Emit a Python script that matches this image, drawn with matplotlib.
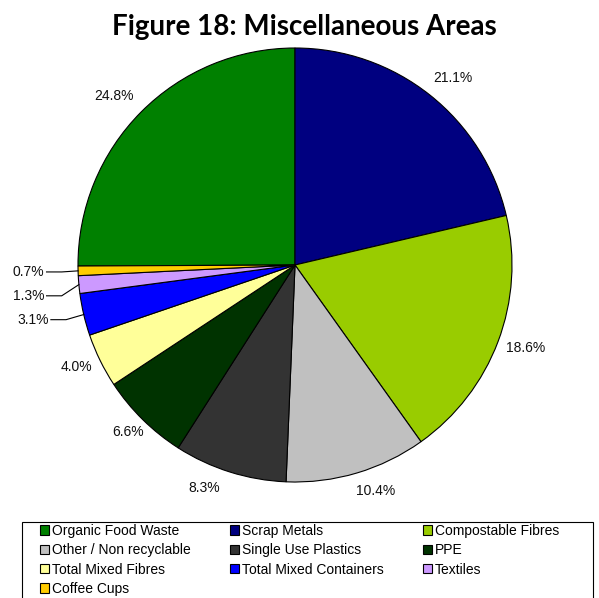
import numpy as np
import matplotlib
matplotlib.use("Agg")
import matplotlib.pyplot as plt
from matplotlib.patches import Patch, Rectangle

plt.rcParams['font.family'] = ['Liberation Sans', 'DejaVu Sans']

# data (order as in the legend)
categories = ['Organic Food Waste', 'Scrap Metals', 'Compostable Fibres',
              'Other / Non recyclable', 'Single Use Plastics', 'PPE',
              'Total Mixed Fibres', 'Total Mixed Containers', 'Textiles',
              'Coffee Cups']
values = [24.8, 21.1, 18.6, 10.4, 8.3, 6.6, 4.0, 3.1, 1.3, 0.7]
colors = ['#008000', '#000080', '#99CC00', '#C0C0C0', '#333333', '#003300',
          '#FFFF99', '#0000FF', '#CC99FF', '#FFCC00']

# label positions (axes data units, pie radius = 1); None -> leader line label
label_pos = [(-0.835, 0.78), (0.729, 0.862), (1.064, -0.381), (0.372, -1.041),
             (-0.417, -1.028), (-0.771, -0.771), (-1.009, -0.472),
             None, None, None]
leader_y = {7: -0.252, 8: -0.142, 9: -0.032}

W, H = 599, 598
fig = plt.figure(figsize=(W / 100, H / 100), dpi=100)
fig.text(304 / W, 1 - 35 / H, 'Figure 18: Miscellaneous Areas',
         ha='center', va='baseline', fontsize=20, fontweight='bold',
         family=['Lato', 'DejaVu Sans'])

cx, cy, r = 295, 265, 217
ax = fig.add_axes([(cx - r) / W, 1 - (cy + r) / H, 2 * r / W, 2 * r / H])
total = sum(values)
start = 90 + values[0] / total * 360
wedges, _ = ax.pie(values, colors=colors, startangle=start, counterclock=False,
                   wedgeprops=dict(edgecolor='black', linewidth=0.8))
ax.set_xlim(-1, 1)
ax.set_ylim(-1, 1)
ax.set_aspect('equal')
ax.axis('off')

for i, w in enumerate(wedges):
    txt = f'{values[i]:.1f}%'
    if label_pos[i] is not None:
        ax.text(*label_pos[i], txt, ha='center', va='center', fontsize=10,
                color='#111111', clip_on=False)
    else:
        ang = np.deg2rad((w.theta1 + w.theta2) / 2)
        ex, ey = np.cos(ang), np.sin(ang)
        ty = leader_y[i]
        tx = -1.145 if i != 7 else -1.125
        ax.text(tx - 0.01, ty, txt, ha='right', va='center', fontsize=10,
                color='#111111', clip_on=False)
        ax.plot([tx, tx + 0.07, ex], [ty, ty, ey], color='black', lw=0.8,
                clip_on=False)

# legend: rows of 3, matplotlib fills by column -> reorder with blanks
handles = [Patch(facecolor=c, edgecolor='black', linewidth=0.8) for c in colors]
blank = Patch(visible=False)
order = [[0, 3, 6, 9], [1, 4, 7, None], [2, 5, 8, None]]
leg_h, leg_l = [], []
for col in order:
    for k in col:
        leg_h.append(handles[k] if k is not None else blank)
        leg_l.append(categories[k] if k is not None else '')
leg = fig.legend(leg_h, leg_l, ncol=3, loc='upper left',
                 bbox_to_anchor=(40 / W, 1 - 524 / H), fontsize=10,
                 frameon=False, handlelength=0.65, handleheight=0.65,
                 handletextpad=0.2, columnspacing=2.84, labelspacing=0.38,
                 borderpad=0, borderaxespad=0)
fig.add_artist(Rectangle((22 / W, -0.05), (593 - 22) / W, 1 - 522 / H + 0.05,
                         transform=fig.transFigure, fill=False,
                         edgecolor='black', linewidth=0.8))

fig.savefig('out.png', dpi=100)
